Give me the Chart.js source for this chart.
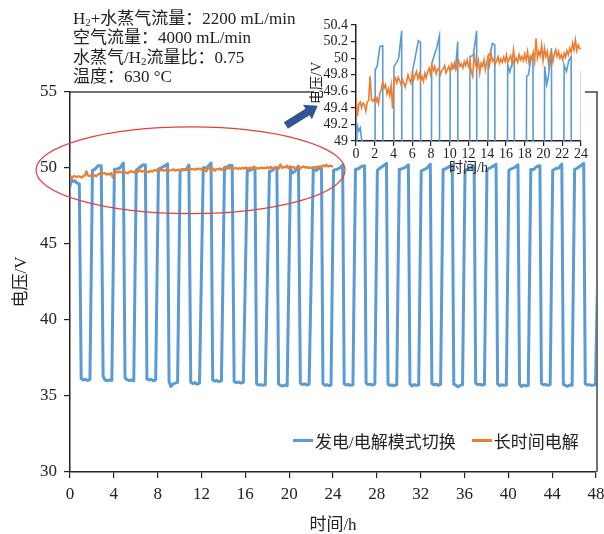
<!DOCTYPE html>
<html>
<head>
<meta charset="utf-8">
<script src="https://cdn.jsdelivr.net/npm/chart.js@4.4.1/dist/chart.umd.min.js"></script>
<style>
  body { margin: 0; background: #fff; }
  #wrap { position: relative; width: 604px; height: 534px; overflow: hidden; }
  #main { position: absolute; left: 0; top: 0; }
  #inset { position: absolute; left: 300px; top: 15px; }
  .serif { font-family: "Liberation Serif", "Noto Sans CJK SC", serif; color: #222; }
  #conditions { position: absolute; left: 73px; top: 9px; font-size: 17px; line-height: 19.3px; white-space: nowrap; }
  #conditions sub { font-size: 11px; vertical-align: -2px; line-height: 0; }
  #legend { position: absolute; left: 293px; top: 428px; display: flex; align-items: center; font-size: 17px; white-space: nowrap; }
  #legend .item { display: flex; align-items: center; margin-right: 16px; }
  #legend .swatch { width: 20px; height: 3px; margin-right: 2px; }
</style>
</head>
<body>
<div id="wrap">
  <canvas id="main" width="604" height="534"></canvas>
  <canvas id="inset" width="288" height="160"></canvas>
  <div id="conditions" class="serif">
    H<sub>2</sub>+水蒸气流量：2200 mL/min<br>
    空气流量：4000 mL/min<br>
    水蒸气/H<sub>2</sub>流量比：0.75<br>
    温度：630 °C
  </div>
  <div id="legend" class="serif"></div>
</div>
<script>
// ---- series labels and colours ----
const switchLabel = '发电/电解模式切换';
const longLabel = '长时间电解';
const switchColor = '#5B9BD5';
const longColor = '#ED7D31';

// ---- axis titles ----
const xTitle = '时间/h';
const yTitle = '电压/V';

// ---- mode-switching run: [time h, voltage V] ----
const switchPoints = [
  [0, 48.75], [0.1, 49.2], [0.3, 49.12], [0.45, 49.16], [0.6, 49.02], [0.85, 48.95],
  [1.02, 36.15], [1.2, 36.05], [1.4, 36.10], [1.6, 36.02], [1.82, 36.08],
  [2.05, 49.86], [2.25, 49.90], [2.55, 50.14], [2.85, 50.15],
  [3.02, 36.30], [3.2, 36.05], [3.4, 36.00], [3.6, 36.06], [3.82, 36.02],
  [4.05, 49.90], [4.4, 49.96], [4.55, 50.00], [4.87, 50.33],
  [5.02, 36.20], [5.2, 36.08], [5.4, 36.02], [5.6, 36.05], [5.82, 36.00],
  [6.05, 49.86], [6.3, 50.00], [6.65, 50.21], [6.88, 50.19],
  [7.02, 36.12], [7.2, 36.05], [7.4, 36.10], [7.6, 36.00], [7.82, 36.06],
  [8.07, 49.93], [8.4, 50.05], [8.6, 50.12], [8.9, 50.27],
  [9.04, 35.95], [9.2, 35.62], [9.4, 35.80], [9.6, 35.85], [9.82, 35.90],
  [10.05, 49.86], [10.45, 49.88], [10.65, 49.92], [10.85, 50.20],
  [11.02, 35.90], [11.2, 35.82], [11.4, 35.88], [11.6, 35.78], [11.82, 35.85],
  [12.16, 50.02], [12.5, 50.03], [12.87, 50.33],
  [13.02, 36.05], [13.2, 35.98], [13.4, 36.02], [13.6, 35.95], [13.82, 36.00],
  [14.1, 50.03], [14.3, 50.05], [14.55, 50.18], [14.8, 50.16],
  [14.98, 35.95], [15.2, 35.88], [15.4, 35.92], [15.6, 35.85], [15.82, 35.90],
  [16.18, 49.92], [16.4, 49.83], [16.6, 49.92], [16.88, 49.98],
  [17.03, 35.80], [17.2, 35.72], [17.4, 35.75], [17.6, 35.70], [17.82, 35.74],
  [18.2, 49.78], [18.4, 49.80], [18.7, 50.02], [18.88, 49.98],
  [19.03, 35.80], [19.2, 35.70], [19.4, 35.65], [19.6, 35.72], [19.82, 35.68],
  [20.12, 49.90], [20.35, 49.68], [20.5, 49.76], [20.85, 50.12],
  [21.02, 35.85], [21.2, 35.75], [21.4, 35.80], [21.6, 35.72], [21.82, 35.78],
  [22.2, 49.92], [22.45, 49.84], [22.7, 49.97], [22.95, 50.02],
  [23.08, 35.82], [23.25, 35.70], [23.45, 35.74], [23.65, 35.68], [23.82, 35.72],
  [24.05, 49.85], [24.3, 49.90], [24.6, 50.00], [24.88, 50.20],
  [25.02, 35.80], [25.2, 35.72], [25.4, 35.76], [25.6, 35.70], [25.82, 35.74],
  [26.05, 49.90], [26.3, 49.95], [26.6, 50.10], [26.88, 50.15],
  [27.02, 35.85], [27.2, 35.75], [27.4, 35.78], [27.6, 35.72], [27.82, 35.80],
  [28.05, 49.85], [28.3, 50.00], [28.6, 50.15], [28.88, 50.30],
  [29.02, 35.78], [29.2, 35.70], [29.4, 35.72], [29.6, 35.68], [29.82, 35.75],
  [30.05, 49.90], [30.3, 49.95], [30.6, 50.05], [30.88, 50.20],
  [31.02, 35.80], [31.2, 35.65], [31.4, 35.75], [31.6, 35.70], [31.82, 35.72],
  [32.05, 49.80], [32.3, 49.90], [32.6, 50.00], [32.88, 50.25],
  [33.02, 35.82], [33.2, 35.74], [33.4, 35.78], [33.6, 35.70], [33.82, 35.76],
  [34.05, 49.90], [34.3, 49.95], [34.6, 50.10], [34.88, 50.20],
  [35.02, 35.78], [35.2, 35.72], [35.4, 35.60], [35.6, 35.70], [35.82, 35.74],
  [36.05, 49.85], [36.3, 49.90], [36.6, 50.05], [36.88, 50.15],
  [37.02, 35.84], [37.2, 35.75], [37.4, 35.78], [37.6, 35.72], [37.82, 35.76],
  [38.05, 49.90], [38.3, 50.00], [38.6, 50.10], [38.88, 50.25],
  [39.02, 35.80], [39.2, 35.68], [39.4, 35.74], [39.6, 35.70], [39.82, 35.72],
  [40.05, 49.85], [40.3, 49.95], [40.6, 50.05], [40.88, 50.20],
  [41.02, 35.78], [41.2, 35.62], [41.4, 35.72], [41.6, 35.66], [41.82, 35.70],
  [42.05, 49.90], [42.3, 49.90], [42.6, 50.10], [42.88, 50.15],
  [43.02, 35.82], [43.2, 35.74], [43.4, 35.76], [43.6, 35.70], [43.82, 35.75],
  [44.05, 49.85], [44.3, 49.95], [44.6, 50.00], [44.88, 50.25],
  [45.02, 35.78], [45.2, 35.70], [45.4, 35.64], [45.6, 35.72], [45.82, 35.70],
  [46.05, 49.90], [46.3, 50.00], [46.6, 50.15], [46.88, 50.30],
  [47.02, 35.80], [47.2, 35.72], [47.4, 35.75], [47.6, 35.70], [47.95, 35.74],
  [48.35, 49.80]
];

// ---- long-term electrolysis run: one reading every 0.15 h from 0 h ----
const longStepH = 0.15;
const longVolts = [
  49.56, 49.30, 49.44, 49.47, 49.40, 49.46, 49.44, 49.36, 49.47, 49.49,
  49.78, 49.50, 49.48, 49.51, 49.46, 49.52, 49.45, 49.58, 49.62, 49.71,
  49.64, 49.68, 49.57, 49.63, 49.55, 49.67, 49.39, 49.72, 49.76, 49.70,
  49.77, 49.73, 49.68, 49.74, 49.70, 49.65, 49.72, 49.80, 49.74, 49.70,
  49.82, 49.74, 49.79, 49.84, 49.75, 49.81, 49.73, 49.78, 49.72, 49.82,
  49.76, 49.84, 49.88, 49.80, 49.92, 49.85, 49.90, 49.81, 49.87, 49.88,
  49.80, 49.85, 49.87, 49.91, 49.82, 49.86, 49.90, 49.84, 49.93, 49.88,
  49.94, 49.86, 49.92, 49.97, 49.90, 49.93, 49.88, 49.96, 49.91, 49.98,
  49.90, 49.95, 49.84, 49.78, 50.06, 49.92, 49.88, 49.97, 49.82, 49.94,
  49.90, 49.98, 49.86, 49.95, 50.02, 49.92, 50.06, 49.96, 49.99, 49.93,
  49.97, 50.02, 49.94, 49.99, 49.95, 50.01, 49.96, 50.04, 49.95, 49.99,
  50.03, 49.94, 50.10, 49.96, 50.00, 49.95, 50.04, 49.98, 50.02, 49.97,
  50.05, 49.97, 50.08, 49.95, 50.02, 49.99, 50.07, 49.96, 50.24, 50.00,
  50.08, 50.03, 50.16, 49.97, 50.12, 50.02, 50.08, 49.92, 50.04, 50.07,
  49.96, 50.05, 50.10, 50.02, 50.08, 50.00, 50.04, 49.98, 50.06, 50.01,
  50.09, 50.04, 50.12, 50.07, 50.18, 50.10, 50.22, 50.09, 50.16, 50.12,
  50.11
];

// ---- axis ranges and ticks ----
const mainX = { min: 0, max: 48, step: 4 };
const mainY = { min: 30, max: 55, step: 5 };
const insetX = { min: 0, max: 24, step: 2 };
const insetY = { min: 49, max: 50.4, step: 0.2 };

// ---- annotations, in data units of the main chart ----
const focusEllipse = { t: 11, v: 49.85, halfT: 14.1, halfV: 2.85 };
const pointerArrow = { from: [19.7, 52.8], to: [22.6, 54.1] };

// ---- build chart tables ----
const switchData = switchPoints.map(([t, v]) => ({ x: t, y: v }));
const longData = longVolts.map((v, i) => ({ x: Number((i * longStepH).toFixed(2)), y: v }));

const FONT = '"Liberation Serif", "Noto Sans CJK SC", serif';
const INK = '#222';

function datasets(wSwitch, wLong) {
  return [
    { label: longLabel, data: longData, borderColor: longColor, borderWidth: wLong, order: 0 },
    { label: switchLabel, data: switchData, borderColor: switchColor, borderWidth: wSwitch, order: 1 }
  ];
}

// legend built from the series definitions
const legendEl = document.getElementById('legend');
[[switchLabel, switchColor], [longLabel, longColor]].forEach(([label, color]) => {
  const item = document.createElement('div');
  item.className = 'item';
  const sw = document.createElement('span');
  sw.className = 'swatch';
  sw.style.background = color;
  const tx = document.createElement('span');
  tx.textContent = label;
  item.appendChild(sw);
  item.appendChild(tx);
  legendEl.appendChild(item);
});

// top and right frame lines of the main plot, with an opening behind the inset
const framePlugin = {
  id: 'frame',
  afterDraw(chart, args, opts) {
    const { ctx, chartArea: a } = chart;
    ctx.save();
    ctx.strokeStyle = '#444';
    ctx.lineWidth = 1.5;
    ctx.beginPath();
    ctx.moveTo(a.left, a.top);
    ctx.lineTo(opts.gapFrom, a.top);
    ctx.moveTo(opts.gapTo, a.top);
    ctx.lineTo(a.right + 1, a.top);
    ctx.lineTo(a.right + 1, a.bottom);
    ctx.stroke();
    ctx.restore();
  }
};

// red ellipse around the high-voltage band and the arrow pointing to the inset
const annotationPlugin = {
  id: 'callouts',
  afterDraw(chart) {
    const { ctx, scales: { x, y } } = chart;
    ctx.save();
    const cx = x.getPixelForValue(focusEllipse.t);
    const cy = y.getPixelForValue(focusEllipse.v);
    const rx = x.getPixelForValue(focusEllipse.t + focusEllipse.halfT) - cx;
    const ry = cy - y.getPixelForValue(focusEllipse.v + focusEllipse.halfV);
    ctx.strokeStyle = '#E2413B';
    ctx.lineWidth = 1.2;
    ctx.beginPath();
    ctx.ellipse(cx, cy, rx, ry, 0, 0, Math.PI * 2);
    ctx.stroke();

    const x0 = x.getPixelForValue(pointerArrow.from[0]);
    const y0 = y.getPixelForValue(pointerArrow.from[1]);
    const x1 = x.getPixelForValue(pointerArrow.to[0]);
    const y1 = y.getPixelForValue(pointerArrow.to[1]);
    const len = Math.hypot(x1 - x0, y1 - y0);
    const ux = (x1 - x0) / len, uy = (y1 - y0) / len;
    const nx = -uy, ny = ux;
    const shaft = 3.8, head = 8.5, headLen = 12;
    const bx = x1 - ux * headLen, by = y1 - uy * headLen;
    ctx.fillStyle = '#2F5597';
    ctx.beginPath();
    ctx.moveTo(x0 + nx * shaft, y0 + ny * shaft);
    ctx.lineTo(bx + nx * shaft, by + ny * shaft);
    ctx.lineTo(bx + nx * head, by + ny * head);
    ctx.lineTo(x1, y1);
    ctx.lineTo(bx - nx * head, by - ny * head);
    ctx.lineTo(bx - nx * shaft, by - ny * shaft);
    ctx.lineTo(x0 - nx * shaft, y0 - ny * shaft);
    ctx.closePath();
    ctx.fill();
    ctx.restore();
  }
};

function axis(range, size, tickLen, pad, title, titlePad, fit) {
  return {
    type: 'linear',
    min: range.min,
    max: range.max,
    ticks: {
      stepSize: range.step,
      autoSkip: false,
      maxRotation: 0,
      minRotation: 0,
      color: INK,
      padding: pad,
      font: { family: FONT, size: size },
      callback: v => String(Number(v.toFixed(1)))
    },
    grid: { drawOnChartArea: false, drawTicks: true, tickLength: tickLen, color: INK, lineWidth: 1.2 },
    border: { color: INK, width: 1.5 },
    title: { display: true, text: title, color: INK, padding: { top: titlePad, bottom: 0 }, font: { family: FONT, size: size, lineHeight: 1 } },
    afterFit(s) {
      fit(s);
      // keep the plot box exactly where the layout padding puts it
      s.paddingLeft = 0; s.paddingRight = 0; s.paddingTop = 0; s.paddingBottom = 0;
    }
  };
}

new Chart(document.getElementById('main'), {
  type: 'line',
  data: { datasets: datasets(3, 2.2) },
  options: {
    responsive: false,
    animation: false,
    layout: { padding: { top: 92, right: 8, left: 0, bottom: 0 } },
    elements: { point: { radius: 0 }, line: { tension: 0, borderJoinStyle: 'round' } },
    plugins: {
      legend: { display: false },
      tooltip: { enabled: false },
      frame: { gapFrom: 314, gapTo: 585 }
    },
    scales: {
      x: axis(mainX, 17, 6, 6, xTitle, 0, s => { s.height = 62; }),
      y: axis(mainY, 17, 6, 7, yTitle, 13, s => { s.width = 70; })
    }
  },
  plugins: [framePlugin, annotationPlugin]
});

new Chart(document.getElementById('inset'), {
  type: 'line',
  data: { datasets: datasets(1.6, 1.6) },
  options: {
    responsive: false,
    animation: false,
    layout: { padding: { top: 10, right: 7, left: 0, bottom: 0 } },
    elements: { point: { radius: 0 }, line: { tension: 0 } },
    plugins: { legend: { display: false }, tooltip: { enabled: false } },
    scales: {
      x: axis(insetX, 14, 5, 0, xTitle, 0, s => { s.height = 34; }),
      y: axis(insetY, 14, 5, 3, yTitle, 10, s => { s.width = 56; })
    }
  }
});
</script>
</body>
</html>
